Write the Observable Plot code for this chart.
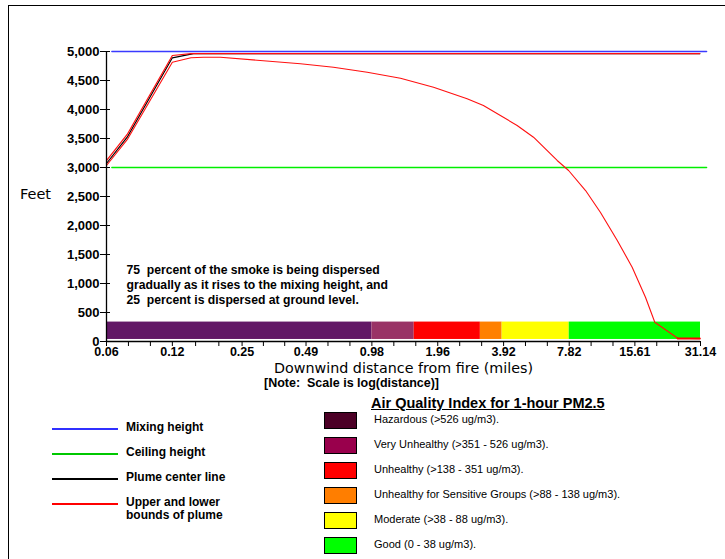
<!DOCTYPE html>
<html><head><meta charset="utf-8">
<script src="https://cdn.jsdelivr.net/npm/d3@7"></script>
<script src="https://cdn.jsdelivr.net/npm/@observablehq/plot@0.6"></script>
<style>
body{margin:0;background:#fff;overflow:hidden;}
#wrap{position:relative;width:725px;height:559px;overflow:hidden;font-family:"Liberation Sans",Arial,sans-serif;color:#000;}
#frame{position:absolute;left:8px;top:5px;width:800px;height:700px;border-left:1px solid #000;border-top:1px solid #000;}
#chart{position:absolute;left:0;top:0;}
.ln{position:absolute;height:2px;width:66px;left:52px;}
.lt{position:absolute;left:126px;font-weight:bold;font-size:12px;line-height:13px;white-space:nowrap;}
.sw{position:absolute;left:324px;width:31px;height:15px;border:1px solid #000;}
.st{position:absolute;left:374px;font-size:11px;line-height:13px;white-space:nowrap;}
#aqt{position:absolute;left:371px;top:395px;font-weight:bold;font-size:14.5px;text-decoration:underline;white-space:nowrap;}
</style></head>
<body><div id="wrap"><div id="frame"></div><div id="chart"></div></div>
<script>
// ---- data ----
const xTickValues = [0.06, 0.12, 0.25, 0.49, 0.98, 1.96, 3.92, 7.82, 15.61, 31.14];
const xTickLabels = ["0.06", "0.12", "0.25", "0.49", "0.98", "1.96", "3.92", "7.82", "15.61", "31.14"];
const yTickValues = [0, 500, 1000, 1500, 2000, 2500, 3000, 3500, 4000, 4500, 5000];
const mixingHeight = 5000;
const ceilingHeight = 3000;
const refLineX = [0.0635, 33.2];
const plumeX = [0.06, 0.0746, 0.12, 0.146, 0.1666, 0.199, 0.462, 0.654, 0.933, 1.324, 1.875, 2.67, 3.17, 3.79, 4.52, 5.37, 6.89, 7.77, 9.29, 10.87, 12.97, 15.17, 17.45, 19.25, 24.5, 30.9];
const lowerY = [3034, 3480, 4816, 4891, 4902, 4902, 4788, 4729, 4643, 4540, 4384, 4184, 4069, 3897, 3724, 3522, 3121, 2948, 2603, 2224, 1741, 1281, 764, 333, 57, 47];
const upperX = [0.06, 0.0746, 0.12, 0.146, 30.9];
const upperY = [3120, 3570, 4931, 4965, 4965];
const centerX = [0.06, 0.0746, 0.12, 0.15, 30.9];
const centerY = [3069, 3522, 4891, 4962, 4962];
const groundX = [24.5, 30.9];
const groundY = [52, 52];
const aqiBreaks = [0.06, 0.98, 1.53, 3.07, 3.86, 7.82, 31.14];
const bandColors = ["#621866", "#993366", "#ff0000", "#ff8000", "#ffff00", "#00ff00"];
const bandLow = 35, bandHigh = 335;
const noteLines = "75  percent of the smoke is being dispersed\ngradually as it rises to the mixing height, and\n25  percent is dispersed at ground level.";
const lineLegendLabels = ["Mixing height", "Ceiling height", "Plume center line", "Upper and lower<br>bounds of plume"];
const lineLegendColors = ["#3030ff", "#00c800", "#000000", "#ff0000"];
const aqiLabels = ["Hazardous (>526 ug/m3).", "Very Unhealthy (>351 - 526 ug/m3).", "Unhealthy (>138 - 351 ug/m3).", "Unhealthy for Sensitive Groups (>88 - 138 ug/m3).", "Moderate (>38 - 88 ug/m3).", "Good (0 - 38 ug/m3)."];
const aqiColors = ["#4c0026", "#99004c", "#ff0000", "#ff7e00", "#ffff00", "#00ff00"];

// ---- build ----
const minorTicks = [];
for (let i = 0; i < xTickValues.length - 1; i++) {
  const a = xTickValues[i], b = xTickValues[i + 1];
  minorTicks.push(a * Math.pow(b / a, 1 / 3), a * Math.pow(b / a, 2 / 3));
}
const band = bandColors.map((c, i) => ({x1: aqiBreaks[i], x2: aqiBreaks[i + 1], c}));
const pts = (xs, ys) => xs.map((x, i) => ({x, y: ys[i]}));
const xLabelData = xTickValues.map((v, i) => ({v, t: xTickLabels[i]}));
const font = "Liberation Sans, Arial, sans-serif";
const wide = "DejaVu Sans, Verdana, sans-serif";

const chart = Plot.plot({
  width: 725, height: 400,
  marginLeft: 106, marginRight: 25, marginTop: 51, marginBottom: 59,
  style: {fontFamily: font, background: "transparent", overflow: "visible"},
  x: {type: "log", domain: [0.06, 31.14]},
  y: {domain: [0, 5000]},
  color: {type: "identity"},
  marks: [
    Plot.rect(band, {x1: "x1", x2: "x2", y1: bandLow, y2: bandHigh, fill: "c"}),
    Plot.line(pts(refLineX, [mixingHeight, mixingHeight]), {x: "x", y: "y", stroke: "#3a3aff", strokeWidth: 1.5}),
    Plot.line(pts(refLineX, [ceilingHeight, ceilingHeight]), {x: "x", y: "y", stroke: "#00ee00", strokeWidth: 1.5}),
    Plot.line(pts(centerX, centerY), {x: "x", y: "y", stroke: "#000", strokeWidth: 1.2}),
    Plot.line(pts(upperX, upperY), {x: "x", y: "y", stroke: "#ff1010", strokeWidth: 1.2}),
    Plot.line(pts(plumeX, lowerY), {x: "x", y: "y", stroke: "#ff1010", strokeWidth: 1.1}),
    Plot.line(pts(groundX, groundY), {x: "x", y: "y", stroke: "#ff0000", strokeWidth: 2}),
    Plot.ruleX([0.06], {y1: 0, y2: 5000, stroke: "#000", strokeWidth: 1.3}),
    Plot.ruleY([0], {x1: 0.06, x2: 31.14, stroke: "#000", strokeWidth: 1.3}),
    Plot.axisY({ticks: yTickValues, tickFormat: d3.format(","), tickSize: 10, dx: 4, tickPadding: 1, fontSize: 13, fontWeight: "bold", stroke: "#000", label: null, fill: "#000"}),
    Plot.axisX({ticks: [...xTickValues, ...minorTicks], tickFormat: () => "", tickSize: 5, stroke: "#000", label: null}),
    Plot.text(xLabelData, {x: "v", text: "t", frameAnchor: "bottom", dy: 6, lineAnchor: "top", fontSize: 12.5, fontWeight: "bold", fill: "#000"}),
    Plot.text([noteLines], {frameAnchor: "top-left", dx: 20, dy: 211, textAnchor: "start", lineAnchor: "top", lineHeight: 1.27, fontSize: 12.2, fontWeight: "bold", fill: "#000"}),
    Plot.text(["Feet"], {frameAnchor: "top-left", dx: -71, dy: 137, textAnchor: "middle", fontSize: 14.5, fontFamily: wide, fill: "#000"}),
    Plot.text(["Downwind distance from fire (miles)"], {frameAnchor: "bottom-left", dx: 297, dy: 31.5, textAnchor: "middle", fontSize: 14.3, fontFamily: wide, fill: "#000"}),
    Plot.text(["[Note:  Scale is log(distance)]"], {frameAnchor: "bottom-left", dx: 245, dy: 45.5, textAnchor: "middle", fontSize: 12.5, fontWeight: "bold", fill: "#000"})
  ]
});
document.getElementById("chart").appendChild(chart);

const wrap = document.getElementById("wrap");
lineLegendLabels.forEach((t, i) => {
  const y = 428 + 25 * i;
  const l = document.createElement("div");
  l.className = "ln"; l.style.top = (y - 0.5) + "px"; l.style.background = lineLegendColors[i];
  wrap.appendChild(l);
  const s = document.createElement("div");
  s.className = "lt"; s.style.top = (y - 7) + "px"; s.innerHTML = t;
  wrap.appendChild(s);
});
const title = document.createElement("div");
title.id = "aqt"; title.textContent = "Air Quality Index for 1-hour PM2.5";
wrap.appendChild(title);
aqiLabels.forEach((t, i) => {
  const top = 412 + 25 * i;
  const b = document.createElement("div");
  b.className = "sw"; b.style.top = top + "px"; b.style.background = aqiColors[i];
  wrap.appendChild(b);
  const s = document.createElement("div");
  s.className = "st"; s.style.top = (top + 1) + "px"; s.textContent = t;
  wrap.appendChild(s);
});
</script></body></html>
